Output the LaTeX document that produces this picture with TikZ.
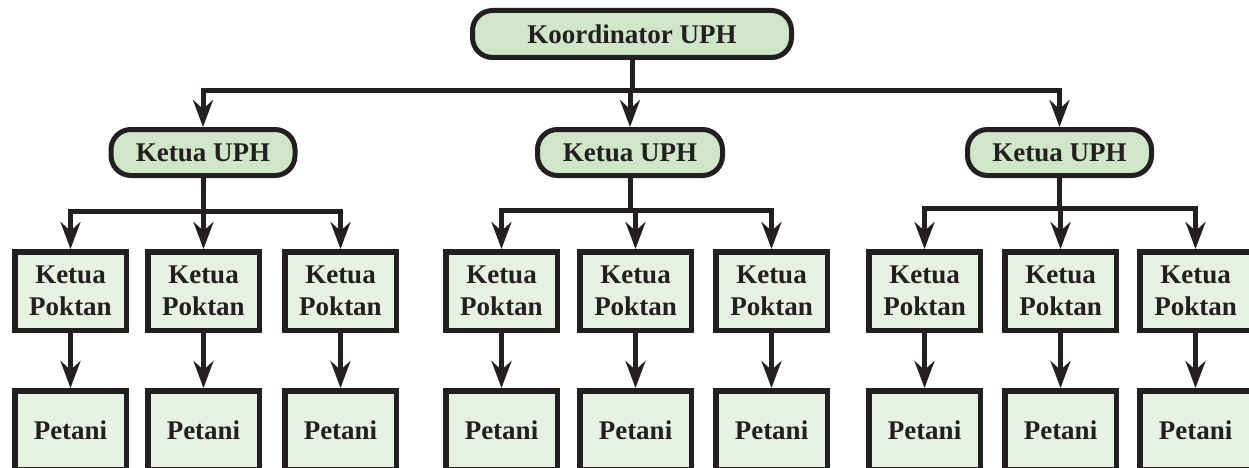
\documentclass[tikz,border=0pt]{standalone}
\usepackage{fontspec}
\setmainfont{Liberation Serif}
\usetikzlibrary{arrows.meta}
\definecolor{edgecol}{HTML}{231F20}
\definecolor{darkfill}{HTML}{D0E6C9}
\definecolor{lightfill}{HTML}{E8F2E3}
\tikzset{
  rbox/.style={draw=edgecol, line width=5pt, fill=darkfill, rounded corners=20pt,
    inner sep=0pt, text=edgecol},
  sbox/.style={draw=edgecol, line width=5.5pt, fill=lightfill, inner sep=0pt,
    minimum width=111.5pt, minimum height=78.5pt, align=center, text=edgecol},
  conn/.style={draw=edgecol, line width=5pt,
    -{Stealth[length=27pt,width=20pt,inset=9pt]}},
}
\begin{document}
\begin{tikzpicture}[x=1pt,y=-1pt,font=\fontsize{27}{32}\selectfont\bfseries]
\useasboundingbox (0,0) rectangle (1249,468);
\clip (0,0) rectangle (1249,468);
% top
\node[rbox, minimum width=319pt, minimum height=47pt] (top) at (632,34) {Koordinator UPH};
% ketua UPH
\node[rbox, minimum width=184pt, minimum height=46pt] (u1) at (203,152.5) {Ketua UPH};
\node[rbox, minimum width=185pt, minimum height=46pt] (u2) at (630,152.5) {Ketua UPH};
\node[rbox, minimum width=184pt, minimum height=46pt] (u3) at (1059.5,152.5) {Ketua UPH};
% ketua poktan
\foreach \n/\x in {k11/70.5,k12/203.5,k13/340.5,k21/501.5,k22/635.5,k23/771.5,k31/924.5,k32/1060.5,k33/1195.5}{
  \node[sbox] (\n) at (\x,291) {Ketua\\Poktan};
}
\foreach \n/\x in {p11/70.5,p12/203.5,p13/340.5,p21/501.5,p22/635.5,p23/771.5,p31/924.5,p32/1060.5,p33/1195.5}{
  \node[sbox] (\n) at (\x,430) {Petani};
}
% bus coordinates
\coordinate (b0) at (632,91);
\coordinate (b1) at (203,211);
\coordinate (b2) at (630,210);
\coordinate (b3) at (1059,208);
% top connectors
\foreach \c in {u1,u2,u3}{
  \draw[conn] (top.south) -- (top.south |- b0) -| (\c.north);
}
\foreach \g in {1,2,3}{
  \foreach \k in {1,2,3}{
    \draw[conn] (u\g.south) -- (u\g.south |- b\g) -| (k\g\k.north);
    \draw[conn] (k\g\k.south) -- (p\g\k.north);
  }
}
\end{tikzpicture}
\end{document}
